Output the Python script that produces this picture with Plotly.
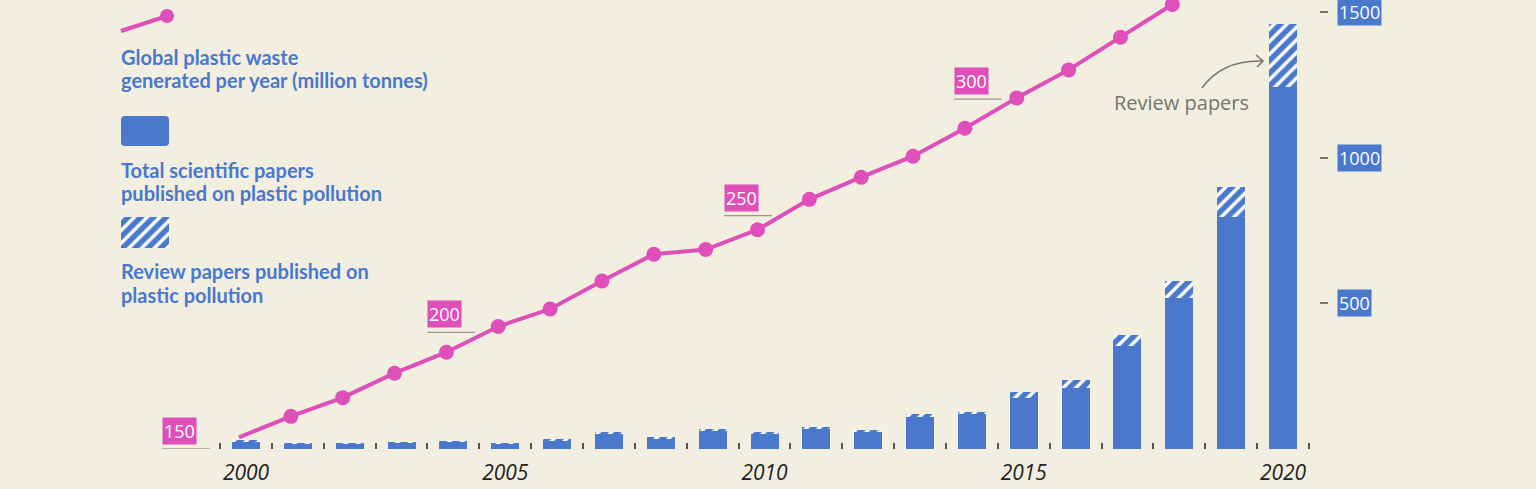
import plotly.graph_objects as go

# ---------------- data ----------------
years = list(range(2000, 2021))
total_papers = [28, 20, 19, 23, 27, 19, 31, 56, 38, 67, 58, 74, 63, 120, 127,
                194, 236, 390, 575, 899, 1458]
review_papers = [2, 1, 1, 2, 3, 1, 2, 3, 2, 4, 4, 4, 2, 9, 8,
                 20, 28, 38, 57, 103, 216]
waste_years = list(range(2000, 2019))
plastic_waste = [155, 164, 172, 182.5, 191.5, 202.5, 210, 222, 233.5, 235.5, 244,
                 257, 266.5, 275.5, 287.5, 300.5, 312.5, 326.5, 340.5]
bar_ticks = [500, 1000, 1500]
line_ticks = [150, 200, 250, 300]
year_labels = [2000, 2005, 2010, 2015, 2020]

# ---------------- style ----------------
W, H = 1536, 489
BG = "#F2EFE0"
BLUE = "#4978CD"
PINK = "#DE4FBA"
GREY = "#77756B"
LEGEND_FONT = "Lato, Roboto, sans-serif"
SANS = "Open Sans, Roboto, sans-serif"

base_px = 449          # baseline pixel row (from top)
px_per_year = 51.85
x_2000 = 246
r0 = 2000 - x_2000 / px_per_year
r1 = r0 + W / px_per_year
line_shift = 7 / px_per_year
bar_scale = 0.2915     # px per paper
line_scale = 2.333     # px per million tonnes


def pxx(x):
    return x / W


def pxy(y):
    return 1 - y / H


non_review = [t - r for t, r in zip(total_papers, review_papers)]
hatch = dict(shape="/", fgcolor="white", bgcolor=BLUE, size=9, solidity=0.38,
             fillmode="replace")

fig = go.Figure()
fig.add_trace(go.Bar(x=years, y=non_review, marker=dict(color=BLUE, line=dict(width=0)),
                     xaxis="x", yaxis="y", showlegend=False, hoverinfo="skip"))
fig.add_trace(go.Bar(x=years, y=review_papers,
                     marker=dict(color=BLUE, line=dict(width=0), pattern=hatch),
                     xaxis="x", yaxis="y", showlegend=False, hoverinfo="skip"))
msizes = [0] + [15] * (len(waste_years) - 1)
fig.add_trace(go.Scatter(x=waste_years, y=plastic_waste, mode="lines+markers",
                         line=dict(color=PINK, width=4),
                         marker=dict(color=PINK, size=msizes, opacity=1,
                                     line=dict(width=0)),
                         xaxis="x2", yaxis="y2", showlegend=False, hoverinfo="skip"))
# invisible trace so that the year-label axis is drawn
fig.add_trace(go.Scatter(x=year_labels, y=[0] * len(year_labels), mode="markers",
                         marker=dict(opacity=0, size=1), xaxis="x4", yaxis="y",
                         showlegend=False, hoverinfo="skip"))

# legend hatched swatch (bar on its own small axes)
fig.add_trace(go.Bar(x=[0], y=[31], base=[-248], width=[1],
                     marker=dict(color=BLUE, line=dict(width=0), pattern=hatch),
                     xaxis="x3", yaxis="y3", showlegend=False, hoverinfo="skip"))

ydom = [1 - base_px / H, 1]
half_years = [y - 0.5 for y in years] + [years[-1] + 0.5]

fig.update_layout(
    width=W, height=H,
    margin=dict(l=0, r=0, t=0, b=0),
    paper_bgcolor=BG, plot_bgcolor=BG,
    barmode="stack", bargap=0.46,
    xaxis=dict(domain=[0, 1], range=[r0, r1], anchor="y",
               tickmode="array", tickvals=half_years, ticks="inside", ticklen=6,
               tickwidth=1.5, tickcolor="#55544e", showticklabels=False,
               showgrid=False, zeroline=False, showline=False),
    xaxis4=dict(overlaying="x", range=[r0, r1], anchor="y", side="bottom",
                tickmode="array", tickvals=year_labels, ticks="",
                tickfont=dict(family=SANS, size=21, color="#222222", style="italic"),
                ticklabelstandoff=9,
                showgrid=False, zeroline=False, showline=False),
    xaxis2=dict(overlaying="x", range=[r0 + line_shift, r1 + line_shift], visible=False),
    yaxis=dict(domain=ydom, range=[0, base_px / bar_scale], anchor="free",
               position=pxx(1319), side="right",
               tickmode="array", tickvals=bar_ticks, ticks="outside", ticklen=8,
               tickwidth=1.5, tickcolor="#77756b", showticklabels=False,
               showgrid=False, zeroline=False, showline=False),
    yaxis2=dict(overlaying="y", range=[150, 150 + base_px / line_scale], visible=False),
    xaxis3=dict(domain=[pxx(121), pxx(169)], range=[-0.5, 0.5], visible=False, anchor="y3"),
    yaxis3=dict(domain=[pxy(248), pxy(116)], range=[-248, -116], visible=False, anchor="x3"),
)

shapes = []
annotations = []

# right-axis boxed labels
for v in bar_ticks:
    annotations.append(dict(xref="paper", yref="y", x=pxx(1337), y=v, xanchor="left",
                            yanchor="middle", text=str(v), showarrow=False,
                            bgcolor=BLUE, borderpad=1,
                            font=dict(family=SANS, size=18, color="white")))

# left (line) value labels with underlines
line_label_x = [1998.38, 2003.5, 2009.22, 2013.65]
for v, xs in zip(line_ticks, line_label_x):
    shapes.append(dict(type="line", xref="x", yref="y2", x0=xs, x1=xs + 0.92, y0=v, y1=v,
                       line=dict(color="#9a988c", width=1.3)))
    annotations.append(dict(xref="x", yref="y2", x=xs, y=v, xanchor="left",
                            yanchor="bottom", yshift=4, text=str(v), showarrow=False,
                            bgcolor=PINK, borderpad=1,
                            font=dict(family=SANS, size=18, color="white")))

# legend: line symbol
shapes.append(dict(type="line", xref="paper", yref="paper", x0=pxx(121), y0=pxy(31),
                   x1=pxx(167), y1=pxy(16), line=dict(color=PINK, width=4)))
shapes.append(dict(type="circle", xref="paper", yref="paper", x0=pxx(160), x1=pxx(174),
                   y0=pxy(23), y1=pxy(9), fillcolor=PINK, line=dict(width=0)))
# legend: solid rounded swatch
x0, x1, y0, y1, rr = 121, 169, 116, 146, 4
path = (f"M {pxx(x0 + rr)},{pxy(y0)} L {pxx(x1 - rr)},{pxy(y0)} "
        f"Q {pxx(x1)},{pxy(y0)} {pxx(x1)},{pxy(y0 + rr)} L {pxx(x1)},{pxy(y1 - rr)} "
        f"Q {pxx(x1)},{pxy(y1)} {pxx(x1 - rr)},{pxy(y1)} L {pxx(x0 + rr)},{pxy(y1)} "
        f"Q {pxx(x0)},{pxy(y1)} {pxx(x0)},{pxy(y1 - rr)} L {pxx(x0)},{pxy(y0 + rr)} "
        f"Q {pxx(x0)},{pxy(y0)} {pxx(x0 + rr)},{pxy(y0)} Z")
shapes.append(dict(type="path", xref="paper", yref="paper", path=path,
                   fillcolor=BLUE, line=dict(width=0)))

legend_lines = [
    ("Global plastic waste", 57),
    ("generated per year (million tonnes)", 80),
    ("Total scientific papers", 170),
    ("published on plastic pollution", 193),
    ("Review papers published on", 271),
    ("plastic pollution", 295),
]
for txt, yc in legend_lines:
    annotations.append(dict(xref="paper", yref="paper", x=pxx(119), y=pxy(yc),
                            xanchor="left", yanchor="middle", text=f"<b>{txt}</b>",
                            showarrow=False,
                            font=dict(family=LEGEND_FONT, size=20, color=BLUE)))

# "Review papers" note with curved arrow
annotations.append(dict(xref="paper", yref="paper", x=pxx(1181), y=pxy(103),
                        xanchor="center", yanchor="middle", text="Review papers",
                        showarrow=False, font=dict(family=SANS, size=20, color=GREY)))
shapes.append(dict(type="path", xref="paper", yref="paper",
                   path=f"M {pxx(1202)},{pxy(88)} Q {pxx(1222)},{pxy(60)} {pxx(1262)},{pxy(61)}",
                   line=dict(color=GREY, width=1.6)))
shapes.append(dict(type="path", xref="paper", yref="paper",
                   path=f"M {pxx(1256)},{pxy(55)} L {pxx(1263)},{pxy(61)} L {pxx(1257)},{pxy(67)}",
                   line=dict(color=GREY, width=1.6)))

fig.update_layout(shapes=shapes, annotations=annotations)
fig.write_html("out.html", config={"displayModeBar": False},
               post_script="document.body.style.margin='0';document.body.style.padding='0';"
                           "document.body.style.overflow='hidden';")
